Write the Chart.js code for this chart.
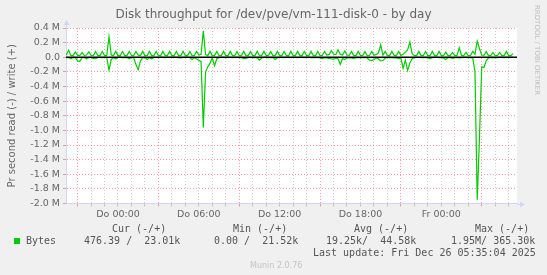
<!DOCTYPE html>
<html>
<head>
<meta charset="utf-8">
<title>Disk throughput for /dev/pve/vm-111-disk-0 - by day</title>
<script src="https://cdn.jsdelivr.net/npm/chart.js@4.4.1/dist/chart.umd.min.js"></script>
<style>
  body { margin: 0; background: #f0f0f0; }
  #wrap { position: relative; width: 547px; height: 275px; overflow: hidden; font-family: "DejaVu Sans", sans-serif; color: #666; }
  #chart { position: absolute; left: 0; top: 0; }
  .txt { position: absolute; white-space: pre; }
  .mono { font-family: "DejaVu Sans Mono", monospace; font-size: 10px; line-height: 12px; color: #555; }
</style>
</head>
<body>
<div id="wrap">
  <canvas id="chart" width="547" height="275"></canvas>
  <div class="txt" style="left:0;top:7px;width:547px;text-align:center;font-size:12px;line-height:14px;">Disk throughput for /dev/pve/vm-111-disk-0 - by day</div>
  <div class="txt" style="left:541px;top:5px;font-size:7px;line-height:8px;color:#bdbdbd;transform:rotate(90deg);transform-origin:left top;">RRDTOOL / TOBI OETIKER</div>

  <div class="txt mono" style="left:112px;top:223px;">Cur (-/+)</div>
  <div class="txt mono" style="left:233px;top:223px;">Min (-/+)</div>
  <div class="txt mono" style="left:354px;top:223px;">Avg (-/+)</div>
  <div class="txt mono" style="left:475px;top:223px;">Max (-/+)</div>

  <div style="position:absolute;left:14px;top:238px;width:6px;height:6px;background:#00cc00;"></div>
  <div class="txt mono" style="left:26px;top:235px;">Bytes</div>
  <div class="txt mono" style="left:84px;top:235px;">476.39 /  23.01k</div>
  <div class="txt mono" style="left:214px;top:235px;">0.00 /  21.52k</div>
  <div class="txt mono" style="left:326px;top:235px;">19.25k/  44.58k</div>
  <div class="txt mono" style="left:451px;top:235px;">1.95M/ 365.30k</div>

  <div class="txt mono" style="left:313px;top:247px;">Last update: Fri Dec 26 05:35:04 2025</div>
  <div class="txt" style="left:250px;top:261px;font-size:8px;line-height:10px;color:#c4c4c4;">Munin 2.0.76</div>
</div>
<script>
// Disk throughput, values in kB/s, one sample every 10 minutes
// x in hours relative to Thursday 00:00
const startHour = -3.833;
const stepHours = 1 / 6;

// write (+)
const writeK = [
  30, 95, 25, 22, 70, 28, 24, 65, 22, 30, 75, 25,
  22, 80, 24, 22, 78, 22, 26, 280, 30, 22, 80, 22,
  22, 78, 22, 22, 80, 24, 22, 78, 28, 22, 80, 22,
  24, 82, 22, 22, 78, 22, 22, 80, 22, 22, 80, 22,
  22, 78, 22, 22, 80, 22, 22, 78, 22, 25, 80, 30,
  40, 360, 35, 22, 80, 22, 22, 78, 22, 22, 80, 22,
  22, 80, 22, 22, 78, 22, 22, 80, 22, 22, 78, 22,
  22, 80, 22, 22, 80, 22, 22, 78, 22, 22, 80, 22,
  22, 78, 22, 22, 80, 22, 22, 80, 22, 22, 78, 22,
  22, 80, 22, 22, 78, 22, 25, 80, 30, 35, 90, 40,
  35, 100, 40, 30, 85, 30, 25, 80, 22, 22, 80, 22,
  22, 78, 22, 25, 80, 30, 35, 60, 170, 30, 80, 22,
  22, 80, 22, 22, 78, 25, 40, 70, 100, 210, 50, 22,
  22, 80, 22, 22, 78, 22, 22, 80, 22, 22, 80, 22,
  22, 70, 22, 22, 65, 22, 25, 130, 25, 22, 65, 22,
  25, 80, 40, 220, 120, 30, 25, 80, 22, 22, 65, 22,
  22, 65, 22, 22, 80, 22, 22, 50
];

// read (-), drawn below zero
const readK = [
  5, 3, 20, 2, 4, 50, 55, 5, 2, 20, 3, 2,
  15, 20, 2, 3, 5, 2, 3, 175, 30, 5, 20, 3,
  2, 4, 5, 2, 20, 3, 5, 100, 170, 50, 5, 3,
  30, 5, 20, 3, 2, 4, 3, 2, 5, 2, 3, 2,
  3, 2, 4, 10, 3, 2, 3, 4, 30, 5, 20, 40,
  60, 960, 200, 130, 80, 10, 115, 20, 5, 3, 2, 4,
  3, 2, 4, 3, 2, 5, 3, 20, 15, 3, 2, 4,
  3, 5, 40, 10, 3, 2, 4, 3, 5, 30, 5, 3,
  2, 4, 3, 2, 5, 3, 2, 4, 3, 2, 5, 3,
  2, 4, 3, 5, 3, 10, 20, 5, 10, 15, 20, 30,
  10, 20, 100, 15, 30, 10, 5, 10, 20, 5, 3, 10,
  5, 3, 10, 40, 45, 30, 10, 20, 50, 45, 10, 5,
  3, 5, 10, 5, 20, 10, 150, 40, 180, 80, 20, 5,
  3, 2, 4, 5, 3, 10, 20, 5, 3, 2, 4, 5,
  10, 30, 5, 3, 15, 5, 3, 10, 5, 3, 2, 5,
  5, 10, 200, 1950, 1100, 130, 140, 50, 10, 5, 3, 10,
  5, 3, 2, 5, 3, 2, 3, 0.5
];

// x axis labels
const tickHours = [0, 6, 12, 18, 24];
const tickLabels = ['Do 00:00', 'Do 06:00', 'Do 12:00', 'Do 18:00', 'Fr 00:00'];

const xMin = -3.86, xMax = 29.62;
const yMin = -2000, yMax = 400;

const GREEN = '#00cc00';
const MAJOR = 'rgba(255, 0, 0, 0.38)';
const MINOR = 'rgba(130, 130, 130, 0.42)';
const AXIS = '#cfd6f8';

function toPoints(arr, sign) {
    return arr.map((v, i) => ({ x: startHour + i * stepHours, y: sign * v }));
}

function yLabel(v) {
    if (v === 0) return '0.0';
    return (v / 1000).toFixed(1) + ' M';
}

// white canvas, black zero rule and the axis arrows
const muninLook = {
    id: 'muninLook',
    beforeDraw(chart) {
        const { ctx, chartArea: a } = chart;
        ctx.save();
        ctx.fillStyle = '#ffffff';
        ctx.fillRect(a.left, a.top, a.right - a.left, a.bottom - a.top);
        ctx.restore();
    },
    afterDatasetsDraw(chart) {
        const { ctx, chartArea: a, scales } = chart;
        const y0 = scales.y.getPixelForValue(0);
        ctx.save();
        ctx.strokeStyle = '#000000';
        ctx.lineWidth = 1.6;
        ctx.beginPath();
        ctx.moveTo(a.left, y0);
        ctx.lineTo(a.right, y0);
        ctx.stroke();
        ctx.restore();
    },
    afterDraw(chart) {
        const { ctx, chartArea: a } = chart;
        const x = Math.round(a.left) + 0.5;
        const y = Math.round(a.bottom) + 0.5;
        ctx.save();
        ctx.strokeStyle = AXIS;
        ctx.fillStyle = AXIS;
        ctx.lineWidth = 1;
        ctx.beginPath();
        ctx.moveTo(x, a.top);
        ctx.lineTo(x, a.top - 4);
        ctx.moveTo(a.right, y);
        ctx.lineTo(a.right + 4, y);
        ctx.stroke();
        ctx.beginPath();
        ctx.moveTo(x - 3, a.top - 3);
        ctx.lineTo(x + 3, a.top - 3);
        ctx.lineTo(x, a.top - 8);
        ctx.closePath();
        ctx.fill();
        ctx.beginPath();
        ctx.moveTo(a.right + 3, y - 3);
        ctx.lineTo(a.right + 3, y + 3);
        ctx.lineTo(a.right + 8, y);
        ctx.closePath();
        ctx.fill();
        ctx.restore();
    }
};

new Chart(document.getElementById('chart'), {
    type: 'line',
    data: {
        datasets: [
            {
                label: 'read',
                data: toPoints(readK, -1),
                borderColor: GREEN,
                borderWidth: 1.2,
                pointRadius: 0,
                tension: 0,
                fill: false
            },
            {
                label: 'write',
                data: toPoints(writeK, 1),
                borderColor: GREEN,
                borderWidth: 1.2,
                pointRadius: 0,
                tension: 0,
                fill: false
            }
        ]
    },
    options: {
        responsive: false,
        animation: false,
        devicePixelRatio: 1,
        layout: { padding: { left: 0, right: 30, top: 28, bottom: 0 } },
        plugins: {
            legend: { display: false },
            tooltip: { enabled: false },
            title: { display: false }
        },
        scales: {
            x: {
                type: 'linear',
                min: xMin,
                max: xMax,
                afterBuildTicks(scale) {
                    const ticks = [];
                    for (let h = -3; h <= 29; h++) ticks.push({ value: h });
                    scale.ticks = ticks;
                },
                afterFit(scale) { scale.height = 275 - 203.5; },
                grid: {
                    color: (c) => (((c.tick.value % 6) + 6) % 6 === 3 ? MAJOR : MINOR),
                    tickLength: 3,
                    lineWidth: 1
                },
                border: { color: AXIS, width: 1, dash: [1, 2] },
                ticks: {
                    autoSkip: false,
                    maxRotation: 0,
                    minRotation: 0,
                    padding: 2,
                    color: '#666666',
                    font: { family: 'DejaVu Sans', size: 9.5 },
                    callback: (v) => {
                        const i = tickHours.indexOf(v);
                        return i >= 0 ? tickLabels[i] : '';
                    }
                }
            },
            y: {
                type: 'linear',
                min: yMin,
                max: yMax,
                afterBuildTicks(scale) {
                    const ticks = [];
                    for (let v = yMin; v <= yMax; v += 100) ticks.push({ value: v });
                    scale.ticks = ticks;
                },
                afterFit(scale) { scale.width = 66; },
                grid: {
                    color: (c) => (c.tick.value % 200 === 0 ? MAJOR : MINOR),
                    tickLength: 3,
                    lineWidth: 1
                },
                border: { color: AXIS, width: 1, dash: [1, 2] },
                title: {
                    display: true,
                    text: 'Pr second read (-) / write (+)',
                    color: '#666666',
                    font: { family: 'DejaVu Sans', size: 10 },
                    padding: { top: 6, bottom: 0 }
                },
                ticks: {
                    padding: 3,
                    color: '#666666',
                    font: { family: 'DejaVu Sans', size: 9.5 },
                    callback: (v) => (v % 200 === 0 ? yLabel(v) : '')
                }
            }
        }
    },
    plugins: [muninLook]
});
</script>
</body>
</html>
